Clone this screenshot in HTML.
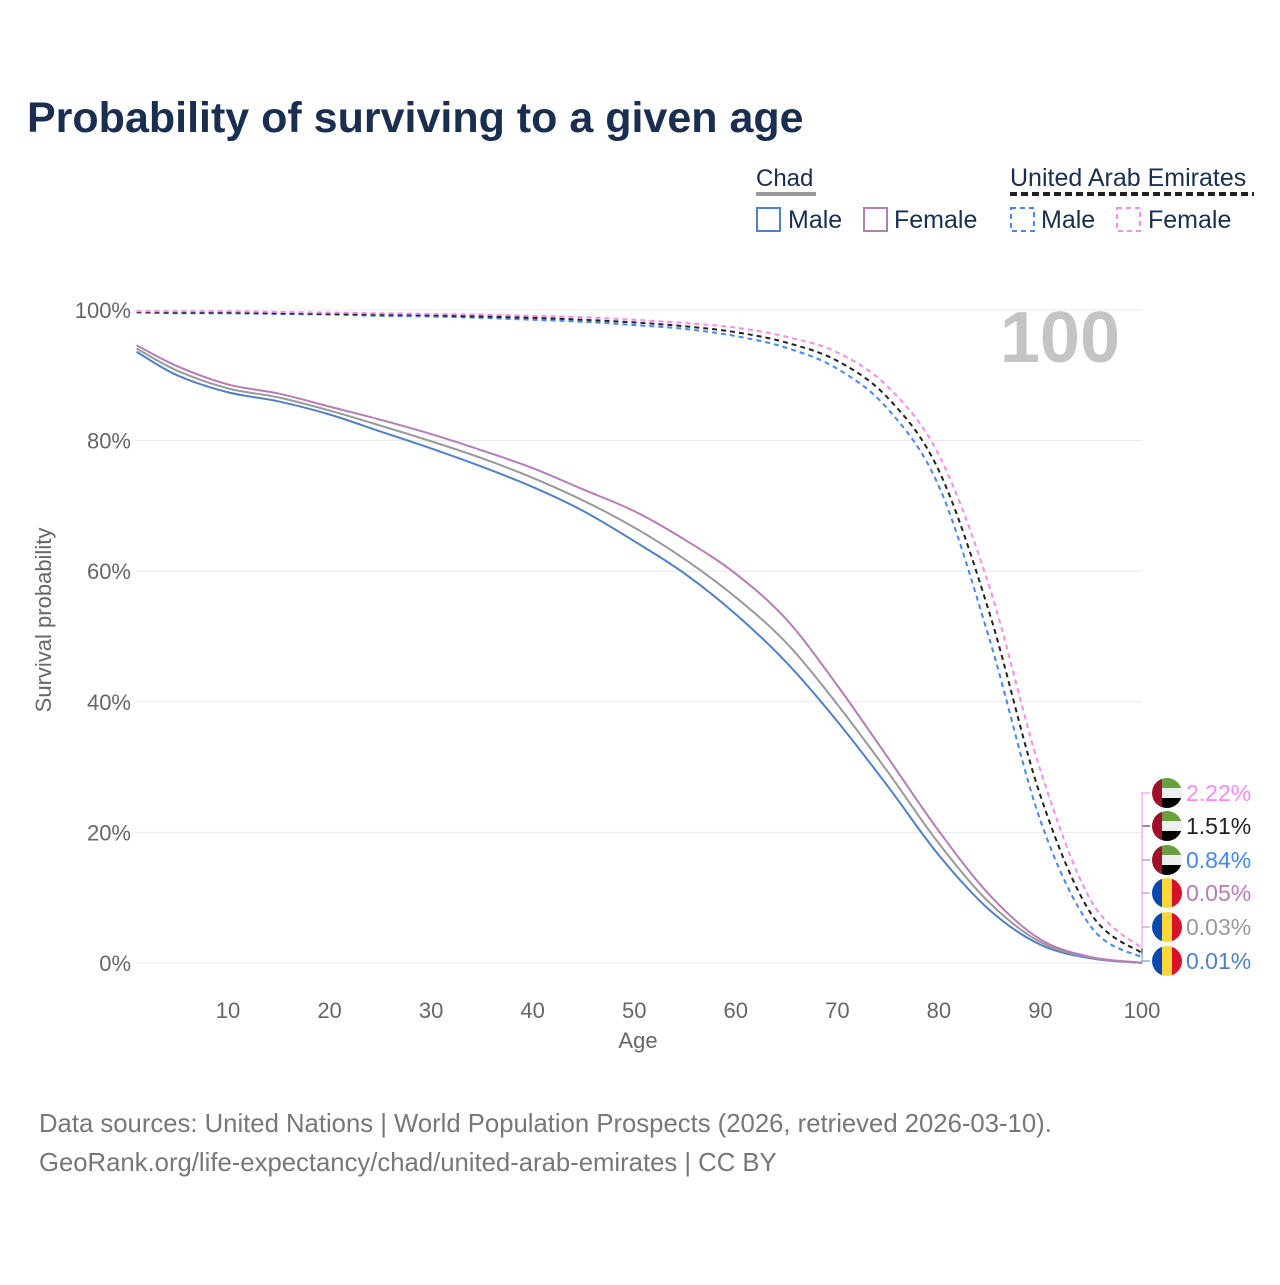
<!DOCTYPE html>
<html><head><meta charset="utf-8"><style>
body{margin:0;background:#fff;font-family:"Liberation Sans",sans-serif}
svg text{font-family:"Liberation Sans",sans-serif}
</style></head><body>
<svg id="c" width="1280" height="1280" viewBox="0 0 1280 1280">
<text x="27" y="132" font-size="43" font-weight="bold" fill="#1a2e4f">Probability of surviving to a given age</text>
<g>
<text x="756" y="186" font-size="24" fill="#1a2e4f">Chad</text>
<line x1="756" y1="194" x2="816" y2="194" stroke="#999" stroke-width="4"/>
<rect x="757" y="208" width="23" height="23" fill="none" stroke="#5080c8" stroke-width="2"/>
<text x="788" y="228" font-size="25" fill="#1a2e4f">Male</text>
<rect x="864" y="208" width="23" height="23" fill="none" stroke="#b77bb8" stroke-width="2"/>
<text x="894" y="228" font-size="25" fill="#1a2e4f">Female</text>
<text x="1010" y="186" font-size="25" fill="#1a2e4f">United Arab Emirates</text>
<line x1="1010" y1="194" x2="1254" y2="194" stroke="#222" stroke-width="4" stroke-dasharray="7,4"/>
<rect x="1011" y="208" width="23" height="23" fill="none" stroke="#4488f0" stroke-width="2" stroke-dasharray="5,4"/>
<text x="1041" y="228" font-size="25" fill="#1a2e4f">Male</text>
<rect x="1117" y="208" width="23" height="23" fill="none" stroke="#f88af0" stroke-width="2" stroke-dasharray="5,4"/>
<text x="1148" y="228" font-size="25" fill="#1a2e4f">Female</text>
</g>
<g id="grid"></g>
<text x="1120" y="362" font-size="72" font-weight="bold" fill="#c4c4c4" text-anchor="end">100</text>
<g id="lines"></g>
<g id="labels"></g>
<text x="638" y="1048" font-size="22" fill="#666" text-anchor="middle">Age</text>
<text transform="translate(51,620) rotate(-90)" font-size="22" fill="#666" text-anchor="middle">Survival probability</text>
<text x="39" y="1132" font-size="25.7" fill="#777">Data sources: United Nations | World Population Prospects (2026, retrieved 2026-03-10).</text>
<text x="39" y="1171" font-size="25.7" fill="#777">GeoRank.org/life-expectancy/chad/united-arab-emirates | CC BY</text>
</svg>
<script>
const ages=[1,5,10,15,20,25,30,35,40,45,50,55,60,65,70,75,80,85,90,95,100];
const chadMale=[93.6,90,87.4,86,84,81.4,78.8,76,72.9,69.2,64.6,59.6,53.4,46,37,27,16.5,8.1,2.8,0.7,0.01];
const chadTotal=[94.1,90.7,88,86.6,84.6,82.3,79.9,77.3,74.3,70.8,66.7,61.8,56,49,39.6,29.2,18.3,9.2,3.2,0.8,0.03];
const chadFemale=[94.6,91.4,88.6,87.2,85.2,83.2,81,78.5,75.8,72.5,69.2,64.8,59.6,52.6,42.5,31.4,20.2,10.4,3.6,0.9,0.05];
const uaeMale=[99.6,99.5,99.5,99.4,99.3,99.1,99,98.8,98.5,98.2,97.7,97.1,96,94.2,91,84.8,73,49.5,21.8,5.5,0.84];
const uaeTotal=[99.7,99.6,99.6,99.5,99.4,99.3,99.2,99,98.8,98.5,98.1,97.5,96.6,95,92.2,86.5,75.4,53.5,25.6,7.5,1.51];
const uaeFemale=[99.8,99.8,99.8,99.7,99.6,99.5,99.4,99.3,99.1,98.9,98.5,98,97.3,95.9,93.5,88.2,77.8,57.5,29.5,9.5,2.22];
const yTicks=[0,20,40,60,80,100];
const xTicks=[10,20,30,40,50,60,70,80,90,100];
const X=a=>228+(a-10)*(1142-228)/90;
const Y=p=>963-p*6.53;
const NS="http://www.w3.org/2000/svg";
const g=document.getElementById('grid'),L=document.getElementById('lines'),lab=document.getElementById('labels');
function mk(tag,attrs,parent){const e=document.createElementNS(NS,tag);for(const k in attrs)e.setAttribute(k,attrs[k]);parent.appendChild(e);return e;}
yTicks.forEach(t=>{
 const ln=mk('line',{x1:136,x2:1142,y1:Y(t),y2:Y(t),stroke:'#e8e8e8','stroke-width':1},g);
 
 
 const tx=mk('text',{x:131,y:Y(t)+8,'font-size':22,fill:'#666','text-anchor':'end'},g);
 tx.textContent=t+'%';
 
 
});
xTicks.forEach(t=>{
 const tx=mk('text',{x:X(t),y:1018,'font-size':22,fill:'#666','text-anchor':'middle'},g);
 tx.textContent=t;
 
 
});
function pathD(vals){
 const p=ages.map((a,i)=>[X(a),Y(vals[i])]);
 let d='M'+p[0][0]+','+p[0][1];
 for(let i=0;i<p.length-1;i++){
  const p0=p[Math.max(0,i-1)],p1=p[i],p2=p[i+1],p3=p[Math.min(p.length-1,i+2)];
  const c1=[p1[0]+(p2[0]-p0[0])/6,p1[1]+(p2[1]-p0[1])/6];
  const c2=[p2[0]-(p3[0]-p1[0])/6,p2[1]-(p3[1]-p1[1])/6];
  d+='C'+c1+' '+c2+' '+p2;
 }
 return d;
}
const series=[
 {v:chadMale,c:'#5080c8',dash:'',n:'chad-male-line',lab:'0.01%',ly:961,flag:'td'},
 {v:chadTotal,c:'#999',dash:'',n:'chad-total-line',lab:'0.03%',ly:927,flag:'td'},
 {v:chadFemale,c:'#b77bb8',dash:'',n:'chad-female-line',lab:'0.05%',ly:893,flag:'td'},
 {v:uaeMale,c:'#4488f0',dash:'5,4',n:'uae-male-line',lab:'0.84%',ly:860,flag:'ae'},
 {v:uaeTotal,c:'#222',dash:'5,4',n:'uae-total-line',lab:'1.51%',ly:826,flag:'ae'},
 {v:uaeFemale,c:'#f88af0',dash:'5,4',n:'uae-female-line',lab:'2.22%',ly:793,flag:'ae'}
];
series.forEach(s=>{
 const p=mk('path',{d:pathD(s.v),fill:'none',stroke:s.c,'stroke-width':2,'stroke-dasharray':s.dash},L);
 
 
 const ye=Y(s.v[s.v.length-1]);
 const br=mk('polyline',{points:`1142,${ye} 1142,${s.ly} 1150,${s.ly}`,fill:'none',stroke:s.c,'stroke-width':1},lab);
 
 
 const cx=1167,cy=s.ly,r=15;
 const fg=mk('g',{},lab);
 
 
 const id='cl'+s.n;
 const cp=mk('clipPath',{id:id},fg);mk('circle',{cx:cx,cy:cy,r:r},cp);
 const gg=mk('g',{'clip-path':`url(#${id})`},fg);
 if(s.flag==='td'){
  mk('rect',{x:cx-r,y:cy-r,width:10,height:30,fill:'#0a48b0'},gg);
  mk('rect',{x:cx-5,y:cy-r,width:10,height:30,fill:'#fcd63a'},gg);
  mk('rect',{x:cx+5,y:cy-r,width:10,height:30,fill:'#d8102a'},gg);
 }else{
  mk('rect',{x:cx-r,y:cy-r,width:30,height:10,fill:'#6a9f40'},gg);
  mk('rect',{x:cx-r,y:cy-5,width:30,height:10,fill:'#eee'},gg);
  mk('rect',{x:cx-r,y:cy+5,width:30,height:10,fill:'#000'},gg);
  mk('rect',{x:cx-r,y:cy-r,width:10,height:30,fill:'#a0102a'},gg);
 }
 const t=mk('text',{x:1186,y:s.ly+8,'font-size':23,fill:s.c},lab);
 t.textContent=s.lab;
 
 
});
</script>
</body></html>
